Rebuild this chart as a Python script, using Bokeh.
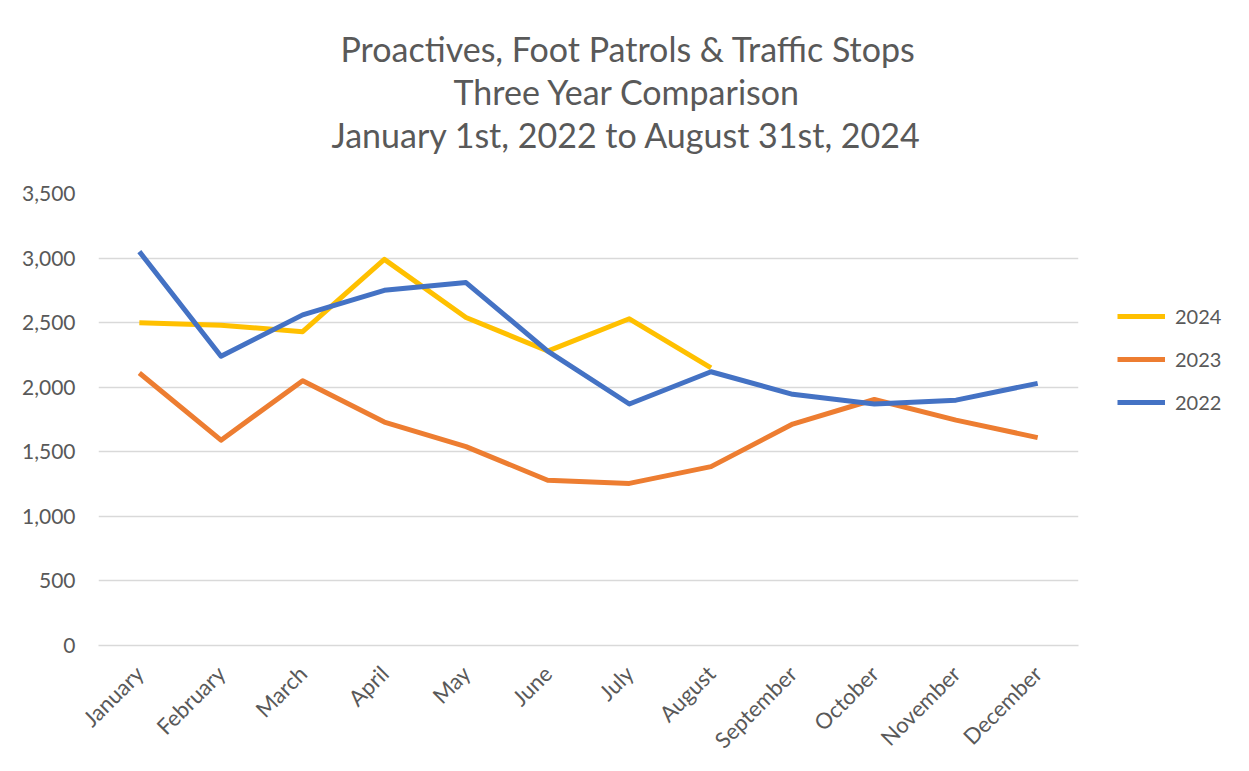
from bokeh.plotting import figure
from bokeh.models import Range1d, FixedTicker, NumeralTickFormatter, Legend, LegendItem, Title
from bokeh.embed import file_html
from bokeh.resources import INLINE
import math

months = ["January", "February", "March", "April", "May", "June", "July",
          "August", "September", "October", "November", "December"]
y2024 = [2500, 2480, 2430, 2990, 2540, 2280, 2530, 2150]
y2023 = [2110, 1590, 2050, 1730, 1540, 1280, 1255, 1385, 1715, 1905, 1745, 1610]
y2022 = [3050, 2240, 2560, 2750, 2810, 2280, 1870, 2120, 1945, 1870, 1900, 2030]
y_ticks = [0, 500, 1000, 1500, 2000, 2500, 3000, 3500]
title_lines = ["Proactives, Foot Patrols & Traffic Stops",
               "Three Year Comparison",
               "January 1st, 2022 to August 31st, 2024"]

FONT = "Lato"
GREY = "#595959"

p = figure(x_range=months, y_range=Range1d(0, 3500),
           frame_width=980, frame_height=452,
           min_border_left=98, min_border_right=155, min_border_bottom=110,
           min_border_top=193,
           output_backend="svg", toolbar_location=None)
p.title = None
# spacer between the plot and the title block
p.add_layout(Title(text=" ", text_font=FONT, text_font_size="15px", standoff=19), "above")
title_offsets = [242, 355, 233]
for i in reversed(range(3)):
    p.add_layout(Title(text=title_lines[i], align="left", offset=title_offsets[i],
                       text_font=FONT, text_font_size="34px",
                       text_font_style="normal", text_color=GREY,
                       standoff=0), "above")

colors = {"2024": "#FFC000", "2023": "#ED7D31", "2022": "#4472C4"}
r24 = p.line(months[:len(y2024)], y2024, line_color=colors["2024"], line_width=5, line_join="round")
r23 = p.line(months, y2023, line_color=colors["2023"], line_width=5, line_join="round")
r22 = p.line(months, y2022, line_color=colors["2022"], line_width=5, line_join="round")

legend = Legend(items=[LegendItem(label="2024", renderers=[r24]),
                       LegendItem(label="2023", renderers=[r23]),
                       LegendItem(label="2022", renderers=[r22])],
                location=(39, 231), orientation="vertical",
                glyph_width=48, glyph_height=20, spacing=19, padding=0, margin=0,
                label_text_font=FONT, label_text_font_size="20px",
                label_text_color=GREY, label_standoff=10,
                border_line_color=None, background_fill_alpha=0)
p.add_layout(legend, "right")

p.outline_line_color = None
p.xgrid.grid_line_color = None
p.ygrid.grid_line_color = "#D9D9D9"
p.ygrid.grid_line_width = 1.5

p.yaxis.ticker = FixedTicker(ticks=y_ticks)
p.yaxis.formatter = NumeralTickFormatter(format="0,0")
p.yaxis.axis_line_color = None
p.yaxis.major_tick_line_color = None
p.yaxis.minor_tick_line_color = None
p.yaxis.major_label_text_font = FONT
p.yaxis.major_label_text_font_size = "21px"
p.yaxis.major_label_text_color = GREY
p.yaxis.major_label_standoff = 17

p.xaxis.axis_line_color = "#D9D9D9"
p.xaxis.axis_line_width = 1.5
p.xaxis.major_tick_line_color = None
p.xaxis.minor_tick_line_color = None
p.xaxis.major_label_orientation = math.pi / 4
p.xaxis.major_label_text_font = FONT
p.xaxis.major_label_text_font_size = "22px"
p.xaxis.major_label_text_color = GREY
p.xaxis.major_label_standoff = 18

open("out.html", "w").write(file_html(p, INLINE))
